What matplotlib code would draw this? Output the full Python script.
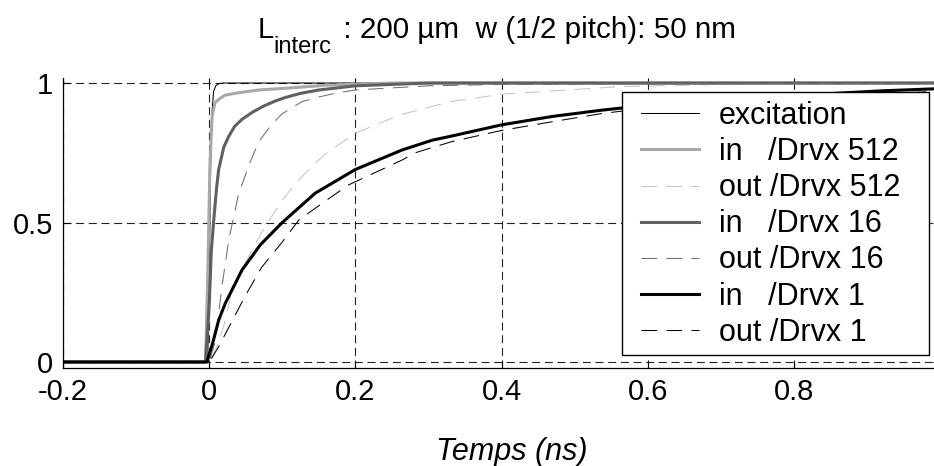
import matplotlib
matplotlib.use("Agg")
import matplotlib.pyplot as plt
from matplotlib.patches import Rectangle

plt.rcParams['font.family'] = ['Liberation Sans', 'DejaVu Sans']

# ---- data (time in ns, normalised amplitude) ----
t_exc = [-0.2, -0.002, 0.0, 0.002, 0.004, 0.006, 0.009, 0.013, 0.02, 1.0]
v_exc = [0.0, 0.0, 0.3, 0.7, 0.9, 0.97, 0.99, 0.998, 1.0, 1.0]

t_in512 = [-0.2, -0.005, -0.002, 0.001, 0.004, 0.008, 0.015, 0.022, 0.045, 0.068, 0.114, 0.159, 0.25, 1.0]
v_in512 = [0.0, 0.0, 0.3, 0.7, 0.88, 0.93, 0.945, 0.957, 0.967, 0.975, 0.983, 0.992, 1.0, 1.0]

t_out512 = [-0.2, 0.0, 0.01, 0.02, 0.03, 0.045, 0.06, 0.08, 0.1, 0.12, 0.14, 0.16, 0.2, 0.26, 0.33, 0.4, 0.49, 0.56, 0.7, 1.0]
v_out512 = [0.0, 0.0, 0.05, 0.13, 0.24, 0.33, 0.41, 0.5, 0.58, 0.645, 0.70, 0.748, 0.82, 0.885, 0.933, 0.96, 0.975, 0.987, 0.995, 1.0]

t_in16 = [-0.2, -0.005, 0.0, 0.003, 0.006, 0.01, 0.013, 0.02, 0.027, 0.035, 0.045, 0.059, 0.075, 0.09, 0.104, 0.125, 0.15, 0.2, 0.3, 1.0]
v_in16 = [0.0, 0.0, 0.2, 0.4, 0.5, 0.62, 0.69, 0.77, 0.81, 0.845, 0.87, 0.895, 0.918, 0.935, 0.948, 0.963, 0.975, 0.99, 1.0, 1.0]

t_out16 = [-0.2, 0.0, 0.008, 0.018, 0.027, 0.04, 0.055, 0.068, 0.085, 0.1, 0.127, 0.15, 0.172, 0.2, 0.3, 0.4, 1.0]
v_out16 = [0.0, 0.0, 0.07, 0.28, 0.44, 0.6, 0.71, 0.79, 0.85, 0.89, 0.933, 0.95, 0.963, 0.975, 0.99, 0.995, 1.0]

t_in1 = [-0.2, -0.003, 0.005, 0.013, 0.022, 0.045, 0.07, 0.1, 0.145, 0.2, 0.264, 0.305, 0.332, 0.4, 0.469, 0.538, 0.6, 0.7, 0.8, 0.92, 1.0]
v_in1 = [0.0, 0.0, 0.07, 0.15, 0.21, 0.33, 0.42, 0.5, 0.605, 0.69, 0.76, 0.795, 0.81, 0.85, 0.88, 0.903, 0.92, 0.94, 0.955, 0.972, 0.98]

t_out1 = [-0.2, 0.0, 0.012, 0.027, 0.05, 0.072, 0.1, 0.123, 0.19, 0.264, 0.282, 0.332, 0.4, 0.469, 0.538, 0.6, 0.8, 1.0]
v_out1 = [0.0, 0.0, 0.05, 0.125, 0.24, 0.34, 0.43, 0.51, 0.634, 0.724, 0.75, 0.79, 0.83, 0.861, 0.891, 0.91, 0.95, 0.97]

labels = ['excitation', 'in   /Drvx 512', 'out /Drvx 512', 'in   /Drvx 16',
          'out /Drvx 16', 'in   /Drvx 1', 'out /Drvx 1']
x_ticks = [-0.2, 0, 0.2, 0.4, 0.6, 0.8, 1]
x_ticklabels = ['-0.2', '0', '0.2', '0.4', '0.6', '0.8', '1']
y_ticks = [0, 0.5, 1]
y_ticklabels = ['0', '0.5', '1']

W, H = 934, 466
fig = plt.figure(figsize=(W / 100, H / 100), dpi=100)
ax = fig.add_axes([63 / W, (H - 368) / H, 877 / W, 290 / H])


def fx(px):
    return px / W


def fy(py):
    return 1 - py / H


thick = 2.2
thin = 0.75
dash = (15, 9)
series = [
    (t_exc, v_exc, '#000000', thin, None),
    (t_in512, v_in512, '#a8a8a8', thick, None),
    (t_out512, v_out512, '#c4c4c4', thin, dash),
    (t_in16, v_in16, '#606060', thick, None),
    (t_out16, v_out16, '#6e6e6e', thin, dash),
    (t_in1, v_in1, '#000000', thick, None),
    (t_out1, v_out1, '#000000', thin, dash),
]
for (tt, vv, c, lw, d), lab in zip(series, labels):
    line, = ax.plot(tt, vv, color=c, lw=lw, label=lab)
    if d is not None:
        line.set_dashes(d)

ax.set_xlim(-0.2, 1.0)
ax.set_ylim(-0.0215, 1.018)
ax.set_xticks(x_ticks)
ax.set_xticklabels(x_ticklabels)
ax.set_yticks(y_ticks)
ax.set_yticklabels(y_ticklabels)
ax.tick_params(direction='in', length=5, width=0.8, labelsize=21, pad=7,
               top=True, right=True)
ax.grid(True, color='#222222', linestyle=(0, (7.2, 4.2)), linewidth=0.8)
ax.spines['top'].set_visible(False)
ax.spines['right'].set_visible(False)
for s in ('left', 'bottom'):
    ax.spines[s].set_linewidth(0.9)

# x label
fig.text(fx(512), fy(460), 'Temps (ns)', ha='center', va='baseline',
         fontsize=22, style='italic')

# title in pieces (MATLAB-like large subscript)
fig.text(fx(258), fy(38), 'L', ha='left', va='baseline', fontsize=21)
fig.text(fx(273), fy(53), 'interc', ha='left', va='baseline', fontsize=17)
fig.text(fx(335), fy(38), ' : 200 µm  w (1/2 pitch): 50 nm', ha='left',
         va='baseline', fontsize=21.3)

# legend box drawn at reference position, entries placed inside
box = Rectangle((fx(622), fy(355)), fx(929) - fx(622), fy(92) - fy(355),
                transform=fig.transFigure, facecolor='white', edgecolor='black',
                linewidth=1.0, zorder=4.5, clip_on=False)
ax.add_artist(box)
leg = ax.legend(loc='upper left', bbox_to_anchor=(fx(641), fy(101)),
                bbox_transform=fig.transFigure, borderaxespad=0,
                fontsize=22, frameon=False, handlelength=1.9,
                handletextpad=0.64, labelspacing=0.2, borderpad=0)
leg.set_zorder(5)

fig.savefig('out.png', dpi=100)
